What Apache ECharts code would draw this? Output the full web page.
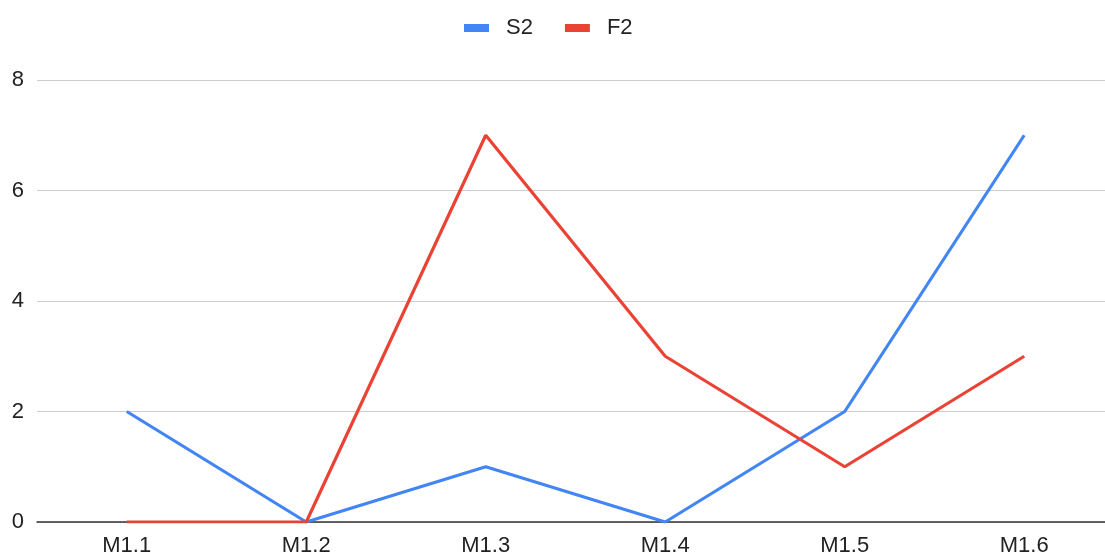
<!DOCTYPE html>
<html><head><meta charset="utf-8">
<script src="https://cdn.jsdelivr.net/npm/echarts@6/dist/echarts.min.js"></script>
<style>html,body{margin:0;padding:0;background:#fff}#c{width:1105px;height:558px}</style>
</head><body><div id="c"></div>
<script>
var categories = ['M1.1','M1.2','M1.3','M1.4','M1.5','M1.6'];
var s2 = [2, 0, 1, 0, 2, 7];
var f2 = [0, 0, 7, 3, 1, 3];
var yTicks = [0, 2, 4, 6, 8];
function pairs(arr){ return arr.map(function(v,i){ return [i, v]; }); }
var chart = echarts.init(document.getElementById('c'));
var font = 'Liberation Sans, Arial, sans-serif';
chart.setOption({
  animation: false,
  legend: {
    top: 12, left: 459, itemWidth: 25, itemHeight: 8, itemGap: 32,
    icon: 'rect',
    textStyle: {fontFamily: font, fontSize: 22, color: '#222', padding: [0,0,0,12]},
    data: ['S2','F2']
  },
  grid: {left: 37, right: 0, top: 80, bottom: 36, containLabel: false},
  xAxis: {
    type: 'value', min: -0.5, max: 5.45,
    splitLine: {show: false},
    axisLine: {onZero: false, lineStyle: {color: '#333', width: 1.5}},
    axisTick: {show: false},
    axisLabel: {customValues: [0,1,2,3,4,5], fontFamily: font, fontSize: 22, color: '#222', margin: 13,
      formatter: function(v){ return categories[Math.round(v)]; }}
  },
  yAxis: {
    type: 'value', min: 0, max: 8, interval: 2,
    axisLine: {show: false}, axisTick: {show: false},
    axisLabel: {fontFamily: font, fontSize: 22, color: '#222', margin: 13},
    splitLine: {lineStyle: {color: '#cccccc', width: 1.2}}
  },
  series: [
    {name: 'S2', type: 'line', data: pairs(s2), symbol: 'none', color: '#4285F4', lineStyle: {width: 3.2}},
    {name: 'F2', type: 'line', data: pairs(f2), symbol: 'none', color: '#EA4335', lineStyle: {width: 3.2}}
  ]
});
</script></body></html>
